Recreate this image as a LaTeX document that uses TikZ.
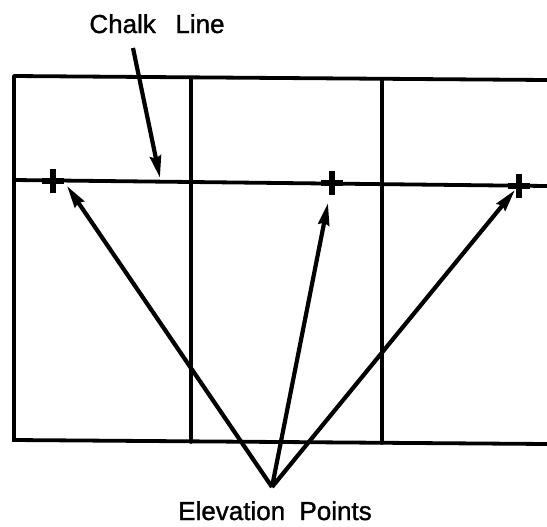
\documentclass[tikz,border=0pt]{standalone}
\usepackage{fontspec}
\setmainfont{Liberation Sans}
\newfontfamily\labelfont[FakeBold=1.2]{Liberation Sans}
\usepackage{tikz}
\usetikzlibrary{arrows.meta}

\begin{document}
\begin{tikzpicture}[
  x=0.5pt, y=-0.5pt,
  frame/.style={line width=1.9pt, line cap=round},
  cross/.style={line width=2.6pt},
  label/.style={font=\labelfont\fontsize{13}{15}\selectfont, inner sep=0pt, anchor=base},
  arrow/.style={-{Stealth[length=11pt, width=5.5pt, inset=1pt]}, line width=2.1pt}
]
  \useasboundingbox (0,0) rectangle (547,526);

  % Forms (grid of panels)
  \coordinate (tl) at (14,76);
  \coordinate (tr) at (547,80);
  \coordinate (bl) at (14,440);
  \coordinate (br) at (547,444);
  \draw[frame] (tl) -- (tr);
  \draw[frame] (tl) -- (bl) -- (br);
  \draw[frame] (191,78) -- (191,442);
  \draw[frame] (382,80) -- (382,443);

  % Chalk line with elevation points
  \coordinate (cl) at (14,180);
  \coordinate (cr) at (547,186);
  \draw[frame] (cl) -- (cr);
  \coordinate (p1) at (53,181);
  \coordinate (p2) at (332,183);
  \coordinate (p3) at (519,186);
  \foreach \p in {p1,p2,p3} {
    \draw[cross] ([yshift=-12pt*0.5]\p) -- ([yshift=12pt*0.5]\p);
    \draw[cross] ([xshift=-11pt*0.5]\p) -- ([xshift=11pt*0.5]\p);
  }

  % Labels
  \node[label] (chalk) at (157,33) {Chalk\hspace{0.75em}Line};
  \node[label] (elev) at (275,520) {Elevation\hspace{0.55em}Points};
  \coordinate (chalkfoot) at (133,48);
  \coordinate (chalktip) at (160,178);
  \coordinate (meet) at (272,487);
  \coordinate (t1) at (67,186);
  \coordinate (t2) at (328,203);
  \coordinate (t3) at (515,190);

  % Arrows
  \draw[arrow] (chalkfoot) -- (chalktip);
  \draw[arrow] (meet) -- (t1);
  \draw[arrow] (meet) -- (t2);
  \draw[arrow] (meet) -- (t3);
\end{tikzpicture}
\end{document}
